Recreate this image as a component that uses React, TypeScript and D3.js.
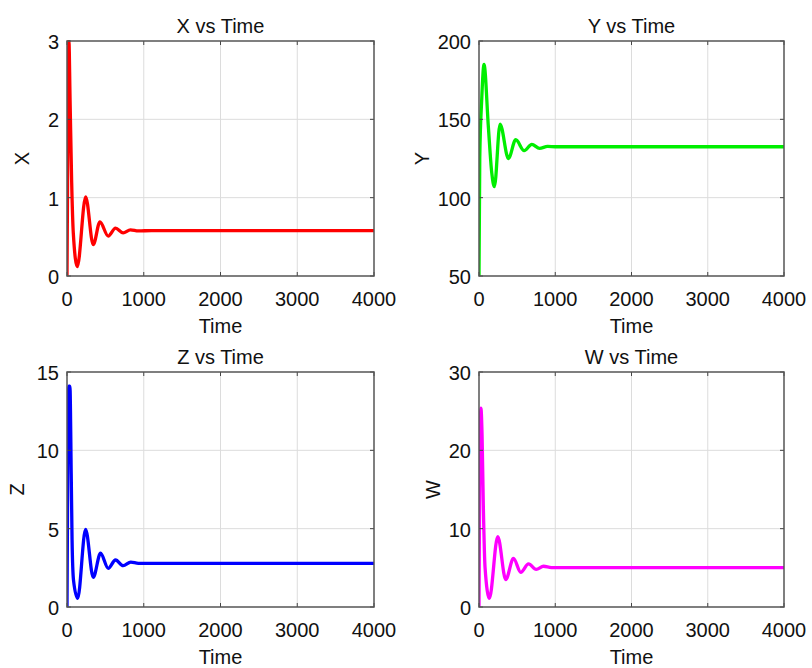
import React from "react";
import * as d3 from "d3";

const timeTicks = [0, 1000, 2000, 3000, 4000];

const xTime = [0, 10, 25, 40, 61, 82, 134, 243, 342, 429, 537, 632, 731, 827, 930, 1100, 4000];
const xVals = [0, 1.6, 3.0, 2.25, 1.19, 0.55, 0.12, 1.01, 0.4, 0.69, 0.51, 0.61, 0.55, 0.59, 0.575, 0.58, 0.58];
const xTicks = [0, 1, 2, 3];

const yTime = [0, 10, 35, 66, 123, 167, 202, 276, 386, 482, 592, 693, 794, 900, 1000, 4000];
const yVals = [50, 125, 162, 185, 145, 116, 107, 147, 125, 137, 130, 134, 131.5, 132.7, 132.5, 132.5];
const yTicks = [50, 100, 150, 200];

const zTime = [0, 12, 25, 38, 55, 66, 85, 139, 242, 342, 437, 537, 632, 731, 831, 930, 4000];
const zVals = [0, 11, 14.1, 14.1, 8.5, 4.3, 1.7, 0.55, 4.96, 1.9, 3.43, 2.47, 3.0, 2.64, 2.87, 2.79, 2.79];
const zTicks = [0, 5, 10, 15];

const wTime = [0, 8, 25, 40, 57, 79, 136, 246, 351, 452, 548, 649, 750, 846, 950, 4000];
const wVals = [0, 15, 25.4, 22, 12.8, 5.1, 1.1, 8.98, 3.5, 6.2, 4.43, 5.5, 4.8, 5.2, 5.03, 5.03];
const wTicks = [0, 10, 20, 30];

const panels = [
  { name: "X", time: xTime, vals: xVals, ticks: xTicks, color: "#ff0000", box: [67, 41, 374, 276], labelOff: 45 },
  { name: "Y", time: yTime, vals: yVals, ticks: yTicks, color: "#00ee00", box: [479, 41, 784, 276], labelOff: 57 },
  { name: "Z", time: zTime, vals: zVals, ticks: zTicks, color: "#0000ff", box: [67, 372, 374, 607], labelOff: 50 },
  { name: "W", time: wTime, vals: wVals, ticks: wTicks, color: "#ff00ff", box: [479, 372, 784, 607], labelOff: 46 },
];

const FONT = "'Liberation Sans', Arial, sans-serif";

function Panel({ p, idx }: { p: any; idx: number }) {
  const [l, t, r, b] = p.box;
  const xs = d3.scaleLinear().domain([0, 4000]).range([l, r]);
  const ys = d3.scaleLinear().domain([p.ticks[0], p.ticks[p.ticks.length - 1]]).range([b, t]);
  const pts = p.time.map((tt: number, i: number) => [tt, p.vals[i]] as [number, number]);
  const line = d3
    .line<[number, number]>()
    .x((d) => xs(d[0]))
    .y((d) => ys(d[1]))
    .curve(d3.curveMonotoneX);
  const clipId = `clip${idx}`;
  const tl = 4;
  return (
    <g>
      <defs>
        <clipPath id={clipId}>
          <rect x={l} y={t - 1} width={r - l} height={b - t + 2} />
        </clipPath>
      </defs>
      <rect x={l} y={t} width={r - l} height={b - t} fill="#fff" />
      {timeTicks.slice(1, -1).map((v) => (
        <line key={"gx" + v} x1={xs(v)} x2={xs(v)} y1={t} y2={b} stroke="#dcdcdc" strokeWidth={1} />
      ))}
      {p.ticks.slice(1, -1).map((v: number) => (
        <line key={"gy" + v} x1={l} x2={r} y1={ys(v)} y2={ys(v)} stroke="#dcdcdc" strokeWidth={1} />
      ))}
      <path d={line(pts) || ""} fill="none" stroke={p.color} strokeWidth={3.3} clipPath={`url(#${clipId})`} strokeLinejoin="round" />
      {timeTicks.map((v) => (
        <g key={"tx" + v}>
          <line x1={xs(v)} x2={xs(v)} y1={b} y2={b - tl} stroke="#444" />
          <line x1={xs(v)} x2={xs(v)} y1={t} y2={t + tl} stroke="#444" />
          <text x={xs(v)} y={b + 30} textAnchor="middle" fontSize={20} fontFamily={FONT} fill="#111">
            {v}
          </text>
        </g>
      ))}
      {p.ticks.map((v: number) => (
        <g key={"ty" + v}>
          <line x1={l} x2={l + tl} y1={ys(v)} y2={ys(v)} stroke="#444" />
          <line x1={r} x2={r - tl} y1={ys(v)} y2={ys(v)} stroke="#444" />
          <text x={l - 8} y={ys(v) + 8} textAnchor="end" fontSize={20} fontFamily={FONT} fill="#111">
            {v}
          </text>
        </g>
      ))}
      <rect x={l} y={t} width={r - l} height={b - t} fill="none" stroke="#555" strokeWidth={1.5} />
      <text x={(l + r) / 2} y={t - 8} textAnchor="middle" fontSize={20} fontFamily={FONT} fill="#111">
        {p.name} vs Time
      </text>
      <text x={(l + r) / 2} y={b + 57} textAnchor="middle" fontSize={20} fontFamily={FONT} fill="#111">
        Time
      </text>
      <text
        transform={`translate(${l - p.labelOff + 7},${(t + b) / 2}) rotate(-90)`}
        textAnchor="middle"
        fontSize={20}
        fontFamily={FONT}
        fill="#111"
      >
        {p.name}
      </text>
    </g>
  );
}

export default function App() {
  return (
    <svg width={812} height={668} style={{ position: "absolute", left: 0, top: 0, background: "#fff" }}>
      <rect width={812} height={668} fill="#fff" />
      {panels.map((p, i) => (
        <Panel key={p.name} p={p} idx={i} />
      ))}
    </svg>
  );
}
